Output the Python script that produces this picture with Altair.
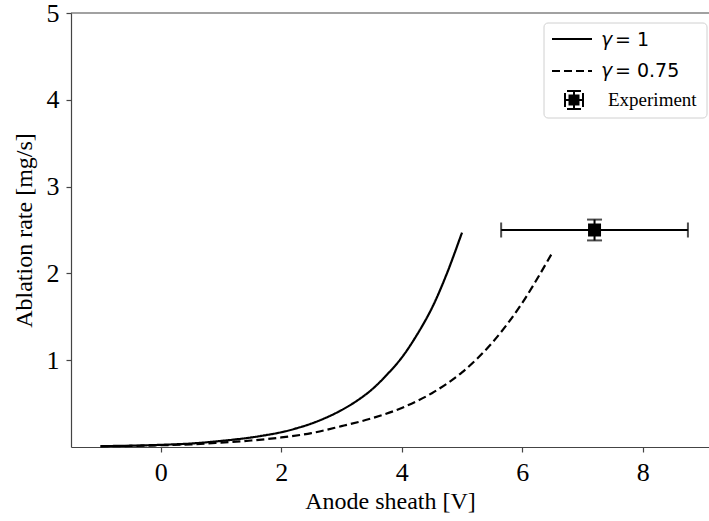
import altair as alt
import pandas as pd

# ---- data ----
solid_x = [-1, -0.5, 0, 0.5, 1, 1.5, 2, 2.25, 2.5, 2.75, 3, 3.25, 3.5, 3.75, 4, 4.25, 4.5, 4.75, 5]
solid_y = [0.01, 0.015, 0.025, 0.04, 0.07, 0.11, 0.17, 0.215, 0.27, 0.34, 0.425, 0.53, 0.66, 0.83, 1.03, 1.29, 1.6, 2.0, 2.47]

dashed_x = [-1, -0.5, 0, 0.5, 1, 1.5, 2, 2.5, 3, 3.5, 4, 4.5, 5, 5.5, 6, 6.5]
dashed_y = [0.008, 0.012, 0.02, 0.03, 0.05, 0.075, 0.11, 0.16, 0.24, 0.33, 0.45, 0.62, 0.86, 1.2, 1.66, 2.24]

exp_x = [7.2]
exp_y = [2.5]
exp_xerr = [1.55]
exp_yerr = [0.12]

series_names = ["γ = 1", "γ = 0.75"]
x_ticks = [0, 2, 4, 6, 8]
y_ticks = [1, 2, 3, 4, 5]

# ---- tables ----
df_lines = pd.concat([
    pd.DataFrame({"x": solid_x, "y": solid_y, "series": series_names[0]}),
    pd.DataFrame({"x": dashed_x, "y": dashed_y, "series": series_names[1]}),
], ignore_index=True)

df_exp = pd.DataFrame({
    "x": exp_x, "y": exp_y,
    "xlo": [a - b for a, b in zip(exp_x, exp_xerr)],
    "xhi": [a + b for a, b in zip(exp_x, exp_xerr)],
    "ylo": [a - b for a, b in zip(exp_y, exp_yerr)],
    "yhi": [a + b for a, b in zip(exp_y, exp_yerr)],
})

W, H = 638, 434
x_scale = alt.Scale(domain=[-1.49, 9.1], nice=False, zero=False)
y_scale = alt.Scale(domain=[0, 5], nice=False, zero=False)
x_axis = alt.Axis(title="Anode sheath [V]", values=x_ticks, format="d", labelPadding=7, titlePadding=4)
y_axis = alt.Axis(title="Ablation rate [mg/s]", values=y_ticks, format="d", labelPadding=7, titlePadding=10)


def X(f):
    return alt.X(f"{f}:Q", scale=x_scale, axis=x_axis)


def Y(f):
    return alt.Y(f"{f}:Q", scale=y_scale, axis=y_axis)


lines = alt.Chart(df_lines).mark_line(color="black", strokeWidth=2.2, interpolate="catmull-rom").encode(
    x=X("x"), y=Y("y"),
    strokeDash=alt.StrokeDash("series:N", scale=alt.Scale(domain=series_names, range=[[1, 0], [8, 4]]), legend=None),
    detail="series:N",
)

base = alt.Chart(df_exp)
hbar = base.mark_rule(color="black", strokeWidth=2).encode(x=X("xlo"), x2="xhi:Q", y=Y("y"))
vbar = base.mark_rule(color="black", strokeWidth=2).encode(x=X("x"), y=Y("ylo"), y2="yhi:Q")
cap_l = base.mark_tick(color="black", orient="vertical", size=15, thickness=2).encode(x=X("xlo"), y=Y("y"))
cap_r = base.mark_tick(color="black", orient="vertical", size=15, thickness=2).encode(x=X("xhi"), y=Y("y"))
cap_b = base.mark_tick(color="black", orient="horizontal", size=15, thickness=2).encode(x=X("x"), y=Y("ylo"))
cap_t = base.mark_tick(color="black", orient="horizontal", size=15, thickness=2).encode(x=X("x"), y=Y("yhi"))
square = base.mark_square(color="black", size=169, opacity=1).encode(x=X("x"), y=Y("y"))

# top spine
one = alt.Chart(pd.DataFrame({"a": [0]}))
top = one.mark_rule(color="#444", strokeWidth=1.2).encode(x=alt.value(0), x2=alt.value(W), y=alt.value(0))

# ---- manual legend ----
leg_box = one.mark_rect(fill="white", stroke="#cccccc", strokeWidth=1, cornerRadius=4, opacity=0.9).encode(
    x=alt.value(473), x2=alt.value(636), y=alt.value(10), y2=alt.value(105))
leg_l1 = one.mark_rule(color="black", strokeWidth=2).encode(x=alt.value(481), x2=alt.value(521), y=alt.value(26))
leg_l2 = one.mark_rule(color="black", strokeWidth=2, strokeDash=[8, 4]).encode(x=alt.value(481), x2=alt.value(521), y=alt.value(58))
g_font = dict(font="DejaVu Sans", fontSize=19, color="black", align="left", baseline="middle")
leg_g1 = one.mark_text(fontStyle="italic", **g_font).encode(x=alt.value(530), y=alt.value(27), text=alt.value("γ"))
leg_t1 = one.mark_text(**g_font).encode(x=alt.value(544), y=alt.value(27), text=alt.value("= 1"))
leg_g2 = one.mark_text(fontStyle="italic", **g_font).encode(x=alt.value(530), y=alt.value(58), text=alt.value("γ"))
leg_t2 = one.mark_text(**g_font).encode(x=alt.value(544), y=alt.value(58), text=alt.value("= 0.75"))
leg_t3 = one.mark_text(font="Liberation Serif", fontSize=19, color="black", align="left", baseline="middle").encode(
    x=alt.value(537), y=alt.value(87), text=alt.value("Experiment"))
mx, my = 503, 87
leg_mh = one.mark_rule(color="black", strokeWidth=2).encode(x=alt.value(mx - 9), x2=alt.value(mx + 9), y=alt.value(my))
leg_mv = one.mark_rule(color="black", strokeWidth=2).encode(x=alt.value(mx), y=alt.value(my - 9), y2=alt.value(my + 9))
leg_c1 = one.mark_rule(color="black", strokeWidth=2).encode(x=alt.value(mx - 9), y=alt.value(my - 7), y2=alt.value(my + 7))
leg_c2 = one.mark_rule(color="black", strokeWidth=2).encode(x=alt.value(mx + 9), y=alt.value(my - 7), y2=alt.value(my + 7))
leg_c3 = one.mark_rule(color="black", strokeWidth=2).encode(x=alt.value(mx - 7), x2=alt.value(mx + 7), y=alt.value(my - 9))
leg_c4 = one.mark_rule(color="black", strokeWidth=2).encode(x=alt.value(mx - 7), x2=alt.value(mx + 7), y=alt.value(my + 9))
leg_sq = one.mark_rect(color="black").encode(x=alt.value(mx - 5.5), x2=alt.value(mx + 5.5), y=alt.value(my - 5.5), y2=alt.value(my + 5.5))

chart = alt.layer(
    lines, hbar, vbar, cap_l, cap_r, cap_b, cap_t, square, top,
    leg_box, leg_l1, leg_l2, leg_g1, leg_t1, leg_g2, leg_t2, leg_t3,
    leg_mh, leg_mv, leg_c1, leg_c2, leg_c3, leg_c4, leg_sq,
).properties(
    width=W, height=H,
    padding={"left": 71, "top": 13, "right": 0, "bottom": 74},
    autosize=alt.AutoSizeParams(type="none"),
    background="white",
).configure_view(stroke=None).configure_axis(
    grid=False, domainColor="#444", domainWidth=1.2, tickColor="#444", tickWidth=1.2, tickSize=5,
    labelColor="black", titleColor="black", labelFont="Liberation Serif", titleFont="Liberation Serif",
    labelFontSize=26, titleFontSize=24, titleFontWeight="normal",
)

chart.save("out.html", embed_options={"renderer": "svg", "actions": False})
